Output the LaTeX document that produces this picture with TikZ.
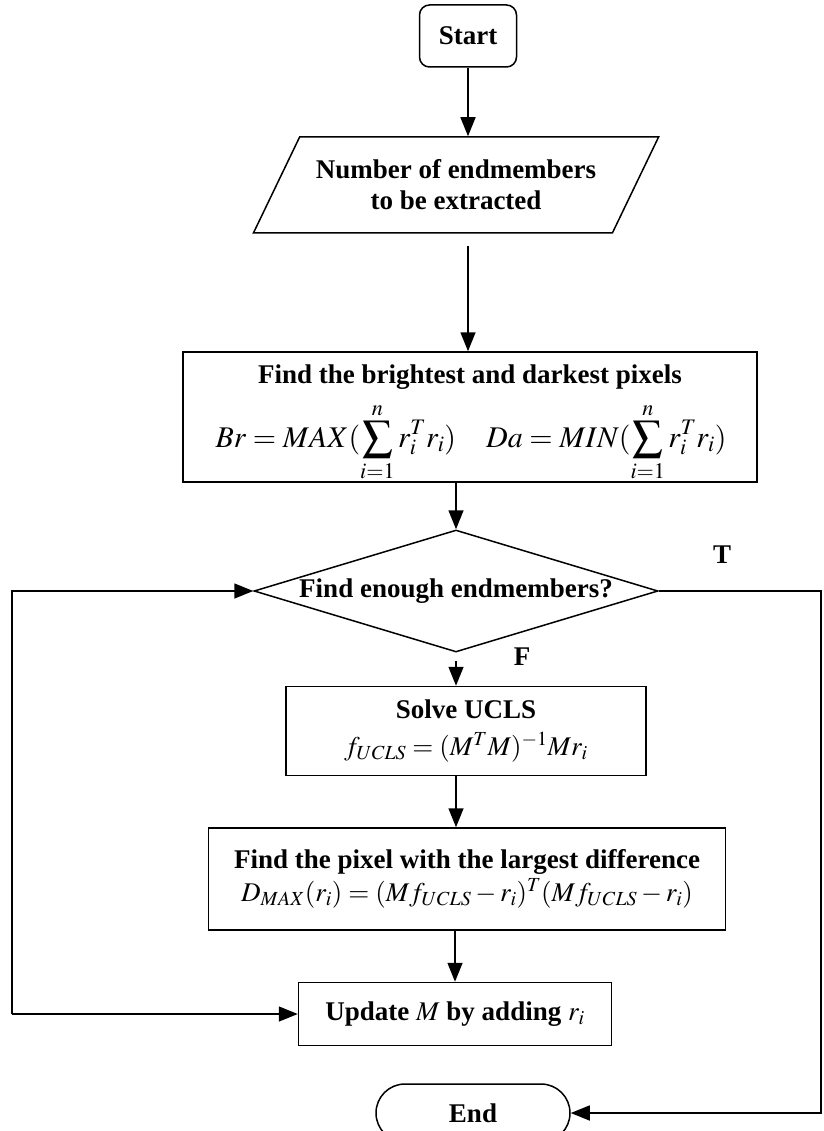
\documentclass[tikz,border=0pt]{standalone}
\usepackage{mathptmx}
\usepackage[no-math]{fontspec}
\setmainfont{Liberation Serif}
\usetikzlibrary{shapes.geometric,arrows.meta,positioning}

\begin{document}
\begin{tikzpicture}[x=1pt, y=-1pt, line width=1.5pt,
    every node/.style={font=\fontsize{27}{31}\selectfont\bfseries, inner sep=0pt, align=center},
    box/.style={draw, rectangle},
    formula/.style={font=\fontsize{30}{34}\selectfont},
    flow/.style={-{Triangle[length=19pt,width=15pt]}}]
    \useasboundingbox (0,0) rectangle (823,1131);
    \node[box, rounded corners=10pt, minimum width=97, minimum height=62] (start) at (468,36) {Start};
    \node[draw, trapezium, trapezium left angle=50.5, trapezium right angle=129.5, trapezium stretches=true,
          minimum width=406, minimum height=96] (input) at (456,185) {Number of endmembers\\to be extracted};
    \node[box, minimum width=574, minimum height=130] (bright) at (470,417) {};
    \node (brighttxt) at (470,377) {Find the brightest and darkest pixels};
    \node[formula] (brightfx) at (471,442)
        {$\displaystyle Br = MAX(\sum_{i=1}^{n} r_i^T r_i)\quad Da = MIN(\sum_{i=1}^{n} r_i^T r_i)$};
    \node[draw, diamond, aspect=3.3, minimum width=404, minimum height=122] (decide) at (456,591) {Find enough endmembers?};
    \node[box, minimum width=360, minimum height=89] (solve) at (466,731) {Solve UCLS\\[6pt]$f_{UCLS} = (M^T M)^{-1} M r_i$};
    \node[box, minimum width=517, minimum height=102] (pixel) at (467,879)
        {Find the pixel with the largest difference\\[2pt]$D_{MAX}(r_i) = (Mf_{UCLS} - r_i)^T (Mf_{UCLS} - r_i)$};
    \node[box, minimum width=313, minimum height=63] (update) at (455,1014) {Update $M$ by adding $r_i$};
    \node[box, rounded corners=29pt, minimum width=194, minimum height=58] (end) at (473,1113) {End};
    \node (tlabel) at (722,555) {T};
    \node (flabel) at (522,657) {F};
    \coordinate (loop) at (12,1014);
    \coordinate (edge) at (821,591);

    \draw[flow] (start) -- (start |- input.north);
    \draw[flow] ([yshift=-12pt]input.south -| start) -- (start |- bright.north);
    \draw[flow] (bright.south -| decide) -- (decide.north);
    \draw[flow] ([yshift=-8pt]decide.south) -- (decide |- solve.north);
    \draw[flow] (solve.south -| decide) -- (decide |- pixel.north);
    \draw[flow] (pixel.south -| update) -- (update.north);
    \draw[flow] (loop) -- (update.west);
    \draw[flow] (loop) |- (decide.west);
    \draw[flow] (decide.east) -- (edge) |- (end.east);
\end{tikzpicture}
\end{document}
